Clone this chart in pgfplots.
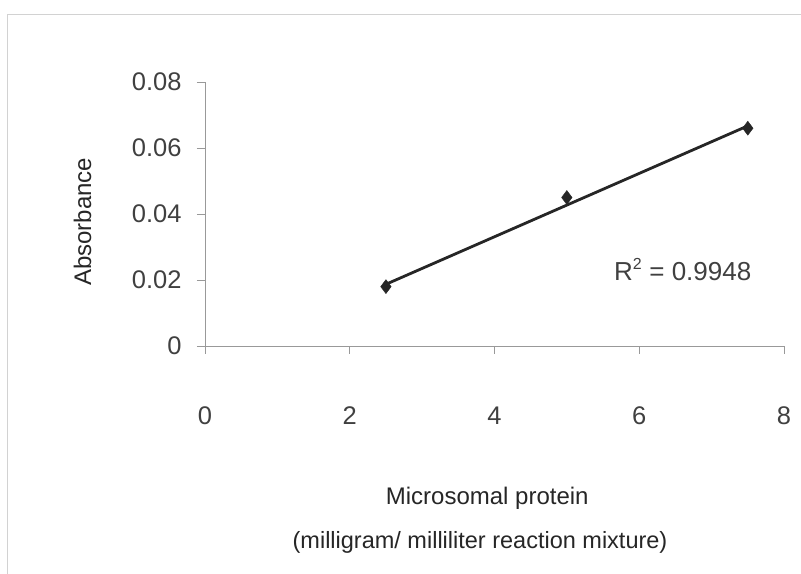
\documentclass[border=0pt]{standalone}
\usepackage{pgfplots}
\pgfplotsset{compat=1.18}
\usepackage{fontspec}
\setmainfont{Liberation Sans}

\definecolor{axgray}{gray}{0.6}
\definecolor{txt}{gray}{0.25}

\begin{document}
\begin{tikzpicture}
\begin{axis}[
    scale only axis,
    width=579pt, height=264pt,
    xmin=0, xmax=8, ymin=0, ymax=0.08,
    enlargelimits=false,
    clip=false,
    axis lines=left,
    axis line style={-, axgray, line width=0.6pt},
    xtick={0,2,4,6,8},
    ytick={0,0.02,0.04,0.06,0.08},
    yticklabels={0,0.02,0.04,0.06,0.08},
    scaled y ticks=false,
    tick align=outside,
    major tick length=8pt,
    tick style={axgray, line width=0.6pt},
    /pgf/number format/assume math mode=true,
    tick label style={font=\fontsize{25.5}{30}\selectfont, text=txt},
    xticklabel style={yshift=-49pt},
    yticklabel style={xshift=-12pt},
    ylabel={Absorbance},
    ylabel style={font=\fontsize{24}{28}\selectfont, text=black!85,
        at={(axis description cs:0,0.47)}, anchor=south, yshift=110pt},
]
\addplot[only marks, mark=diamond*, mark size=7pt, black!85] coordinates {
    (2.5, 0.018)
    (5.0, 0.045)
    (7.5, 0.066)
};
% linear trendline
\addplot[black!85, line width=2.8pt] coordinates {
    (2.5, 0.0187)
    (7.5, 0.0667)
};
\node[font=\fontsize{26}{30}\selectfont, text=txt] at (axis cs:6.6,0.0232) {R$^{\raisebox{2pt}{\fontsize{16}{18}\selectfont 2}}$ = 0.9948};
\node[font=\fontsize{24}{28}\selectfont, text=black!85] at (axis cs:3.9,-0.0462) {Microsomal protein};
\node[font=\fontsize{23.5}{28}\selectfont, text=black!85] at (axis cs:3.8,-0.0595) {(milligram/ milliliter reaction mixture)};
% chart area border
\draw[gray!35, line width=0.6pt] (axis cs:-2.735,-0.09) -- (axis cs:-2.735,0.1006) -- (axis cs:8.4,0.1006);
\coordinate (tl) at (axis cs:-2.8325,0.10485);
\coordinate (br) at (axis cs:8.235,-0.06909);
\end{axis}
\pgfresetboundingbox
\useasboundingbox (tl) rectangle (br);
\end{tikzpicture}
\end{document}
